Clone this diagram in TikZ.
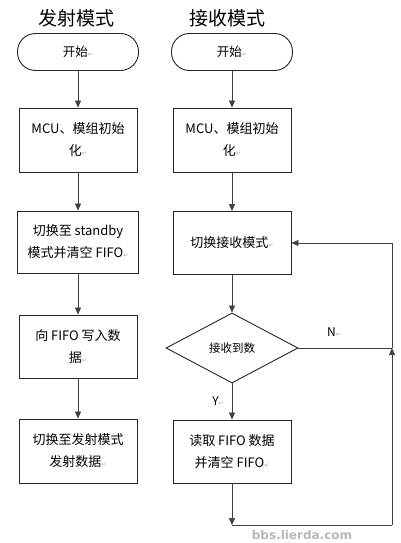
\documentclass[tikz,border=0pt]{standalone}
\usepackage{fontspec}
\setmainfont{Noto Sans CJK SC}
\newfontfamily\symf{DejaVu Sans}
\usetikzlibrary{arrows.meta,shapes.geometric}
\newcommand\retmark{{\color{black!35}\symf\fontsize{6}{6}\selectfont ↵}}
\begin{document}
\begin{tikzpicture}[x=1pt,y=-1pt,
  titlef/.style={font=\fontsize{19}{22}\selectfont},
  term/.style={draw=black!85, line width=0.9pt, rounded corners=18pt, minimum width=121pt, minimum height=37pt, inner sep=0pt, font=\fontsize{12.5}{20}\selectfont},
  stepbox/.style={draw=black!85, line width=0.9pt, minimum width=118pt, minimum height=63pt, inner sep=0pt, align=center, font=\fontsize{13}{22}\selectfont},
  dec/.style={diamond, draw=black!85, line width=0.9pt, aspect=1.886, minimum width=132pt, minimum height=70pt, inner sep=0pt, font=\fontsize{11.5}{14}\selectfont},
  arr/.style={draw=black!75, line width=0.7pt, -{Triangle[length=7pt,width=6pt]}},
  ln/.style={draw=black!75, line width=0.7pt},
  lbl/.style={font=\fontsize{12}{14}\selectfont, inner sep=0pt}
]
\useasboundingbox (0,0) rectangle (400,543);
\fill[white] (0,0) rectangle (400,543);

% titles
\node[titlef] (t1) at (76,18) {发射模式};
\node[titlef] (t2) at (227,18) {接收模式};

% left column
\node[term] (s1) at (78,52) {开始\retmark};
\node[stepbox, minimum height=64pt] (a2) at (78,140) {MCU、模组初始\\化\retmark};
\node[stepbox, minimum width=121pt, minimum height=62pt] (a3) at (78,242) {切换至 standby\\模式并清空 FIFO\retmark};
\node[stepbox] (a4) at (78,346.5) {向 FIFO 写入数\\据\retmark};
\node[stepbox, minimum height=64pt] (a5) at (78,451) {切换至发射模式\\发射数据\retmark};

\draw[arr] (s1) -- (a2);
\draw[arr] (a2) -- (a3);
\draw[arr] (a3) -- (a4);
\draw[arr] (a4) -- (a5);

% right column
\node[term] (s2) at (232,52) {开始\retmark};
\node[stepbox, minimum height=64pt] (b2) at (232,140) {MCU、模组初始\\化\retmark};
\node[stepbox] (b3) at (232,243) {切换接收模式\retmark};
\node[dec] (d) at (232,348) {接收到数};
\node[stepbox] (b4) at (232,451.5) {读取 FIFO 数据\\并清空 FIFO\retmark};

\draw[arr] (s2) -- (b2);
\draw[arr] (b2) -- (b3);
\draw[arr] (b3) -- (d);
\draw[arr] (d) -- (b4);
\node[lbl] (ly) at (218,401) {Y\retmark};

\coordinate (cb) at (232,525);
\coordinate (c1) at (392,525);
\coordinate (c2) at (392,348);
\coordinate (c3) at (392,243);
\draw[arr] (b4) -- (cb);
\draw[ln] (cb) -- (c1);
\draw[arr] (c1) -- (c2);
\draw[ln] (c2) -- (c3);
\draw[arr] (c3) -- (b3.east);
\draw[ln] (d.east) -- (c2);
\node[lbl] (ln1) at (334,332) {N\retmark};

% watermark
\node[text=black!28, font=\symf\bfseries\fontsize{12}{12}\selectfont] (wm) at (302,535) {bbs.lierda.com};
\end{tikzpicture}
\end{document}
